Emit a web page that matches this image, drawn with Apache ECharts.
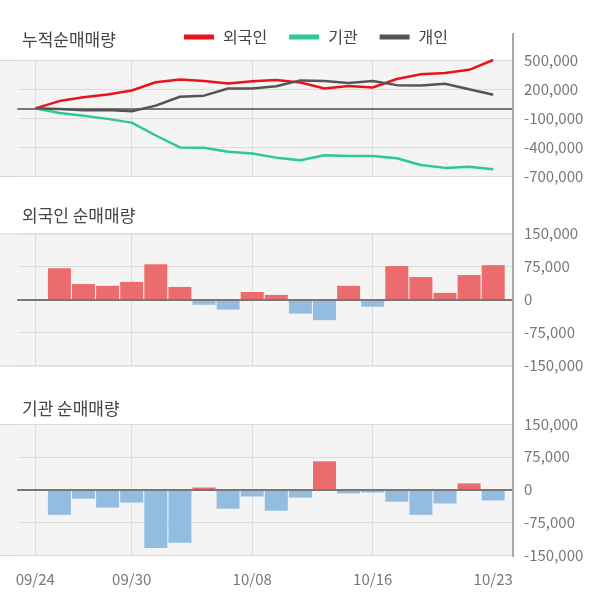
<!DOCTYPE html>
<html><head><meta charset="utf-8">
<script src="https://cdn.jsdelivr.net/npm/echarts@6/dist/echarts.min.js"></script>
<style>html,body{margin:0;padding:0;background:#fff}#c{width:600px;height:604px}</style>
</head><body><div id="c"></div>
<script>
const dates = ['09/24','09/25','09/26','09/27','09/30','10/01','10/02','10/04','10/07','10/08','10/10','10/11','10/14','10/15','10/16','10/17','10/18','10/21','10/22','10/23'];
const shownDates = ['09/24','09/30','10/08','10/16','10/23'];
const gridDates = ['09/24','09/30','10/08','10/16'];

const foreignCum = [0, 75000, 115000, 142000, 185000, 270000, 298000, 282000, 258000, 279000, 292000, 268000, 205000, 232000, 215000, 303000, 353000, 366000, 398000, 500000];
const instCum = [0, -49000, -77000, -109000, -148000, -281000, -404000, -408000, -450000, -468000, -510000, -538000, -486000, -492000, -492000, -517000, -587000, -616000, -605000, -630000];
const indivCum = [0, -7000, -20000, -17000, -30000, 28000, 120000, 131000, 205000, 205000, 229000, 289000, 282000, 263000, 282000, 240000, 236000, 255000, 197000, 141000];

const foreignNet = [null, 71000, 35000, 31000, 40000, 80000, 28500, -12000, -23000, 17000, 10500, -32000, -47000, 31000, -16500, 76000, 51000, 15000, 55500, 78000];
const instNet = [null, -58000, -21000, -41500, -30000, -134000, -122000, 4500, -44000, -16000, -48500, -18500, 64500, -9000, -7000, -28000, -58000, -32000, 14000, -25000];

const cumTicks = {min: -700000, max: 500000, interval: 300000};
const netTicks = {min: -150000, max: 150000, interval: 75000};

const FONT = "'Noto Sans CJK KR', 'Noto Sans', sans-serif";
const panels = [
  {top: 60, height: 116, ticks: cumTicks},
  {top: 233.5, height: 132, ticks: netTicks},
  {top: 424, height: 131, ticks: netTicks}
];
const BG_LEFT = 18, AXIS_X = 513, DATA_LEFT = 23.25, DATA_W = 482;

const grids = [], xAxes = [], yAxes = [], graphics = [];
panels.forEach((p, i) => {
  grids.push({left: BG_LEFT, width: AXIS_X - BG_LEFT, top: p.top, height: p.height});
  grids.push({left: DATA_LEFT, width: DATA_W, top: p.top, height: p.height});
  xAxes.push({
    type: 'value', gridIndex: 2 * i, min: 0, max: 1, z: i === 0 ? 0 : 3,
    axisLine: {show: true, onZero: true, lineStyle: {color: '#777', width: 2}},
    axisTick: {show: false}, axisLabel: {show: false}, splitLine: {show: false}
  });
  xAxes.push({
    type: 'category', gridIndex: 2 * i + 1, data: dates, boundaryGap: true,
    axisLine: {show: false}, axisTick: {show: false},
    axisLabel: {
      show: i === 2, interval: (idx, v) => shownDates.includes(v),
      margin: 17, color: '#777', fontSize: 15, fontFamily: FONT
    },
    splitLine: {show: true, alignWithLabel: true, interval: (idx, v) => gridDates.includes(v), lineStyle: {color: '#dcdcdc', width: 1}}
  });
  yAxes.push({
    type: 'value', gridIndex: 2 * i, position: 'right',
    min: p.ticks.min, max: p.ticks.max, interval: p.ticks.interval,
    axisLine: {show: false}, axisTick: {show: false},
    axisLabel: {margin: 11, color: '#777', fontSize: 15, fontFamily: FONT,
      formatter: v => v.toLocaleString('en-US')},
    splitLine: {show: true, lineStyle: {color: '#dcdcdc', width: 1}}
  });
  yAxes.push({
    type: 'value', gridIndex: 2 * i + 1, show: false,
    min: p.ticks.min, max: p.ticks.max, interval: p.ticks.interval
  });
  graphics.push({
    type: 'rect', z: -10, silent: true,
    shape: {x: -1, y: p.top + 0.5, width: AXIS_X + 1, height: p.height},
    style: {fill: '#f4f4f4', stroke: '#d6d6d6', lineWidth: 1}
  });
});
graphics.push({
  type: 'line', z: 100, silent: true,
  shape: {x1: AXIS_X, y1: 33, x2: AXIS_X, y2: 557},
  style: {stroke: '#aaaaaa', lineWidth: 2}
});

const barColor = p => (p.value >= 0 ? '#ec6b6c' : '#92bde0');
const lineSeries = (name, data, color) => ({
  name, type: 'line', data, xAxisIndex: 1, yAxisIndex: 1,
  showSymbol: false, symbol: 'none', smooth: false,
  lineStyle: {color, width: 2.5}, itemStyle: {color}, color, z: 5
});

const option = {
  animation: false,
  backgroundColor: '#fff',
  textStyle: {fontFamily: FONT},
  title: [
    {text: '누적순매매량', left: 22, top: 31, padding: 0, textStyle: {fontSize: 17, color: '#444', fontWeight: 'normal', fontFamily: FONT}},
    {text: '외국인 순매매량', left: 22, top: 207, padding: 0, textStyle: {fontSize: 17, color: '#444', fontWeight: 'normal', fontFamily: FONT}},
    {text: '기관 순매매량', left: 22, top: 400, padding: 0, textStyle: {fontSize: 17, color: '#444', fontWeight: 'normal', fontFamily: FONT}}
  ],
  legend: {
    data: ['외국인', '기관', '개인'], left: 184, top: 29, padding: 0,
    icon: 'rect', itemWidth: 30, itemHeight: 5, itemGap: 22,
    textStyle: {fontSize: 16, color: '#444', fontFamily: FONT, padding: [0, 0, 0, 4]}
  },
  grid: grids, xAxis: xAxes, yAxis: yAxes,
  graphic: {elements: graphics},
  series: [
    lineSeries('외국인', foreignCum, '#e8141c'),
    lineSeries('기관', instCum, '#2dc98d'),
    lineSeries('개인', indivCum, '#555555'),
    {type: 'bar', data: foreignNet, xAxisIndex: 3, yAxisIndex: 3, barWidth: 23, itemStyle: {color: barColor}},
    {type: 'bar', data: instNet, xAxisIndex: 5, yAxisIndex: 5, barWidth: 23, itemStyle: {color: barColor}}
  ]
};
const chart = echarts.init(document.getElementById('c'), null, {renderer: 'canvas'});
chart.setOption(option);
</script></body></html>
